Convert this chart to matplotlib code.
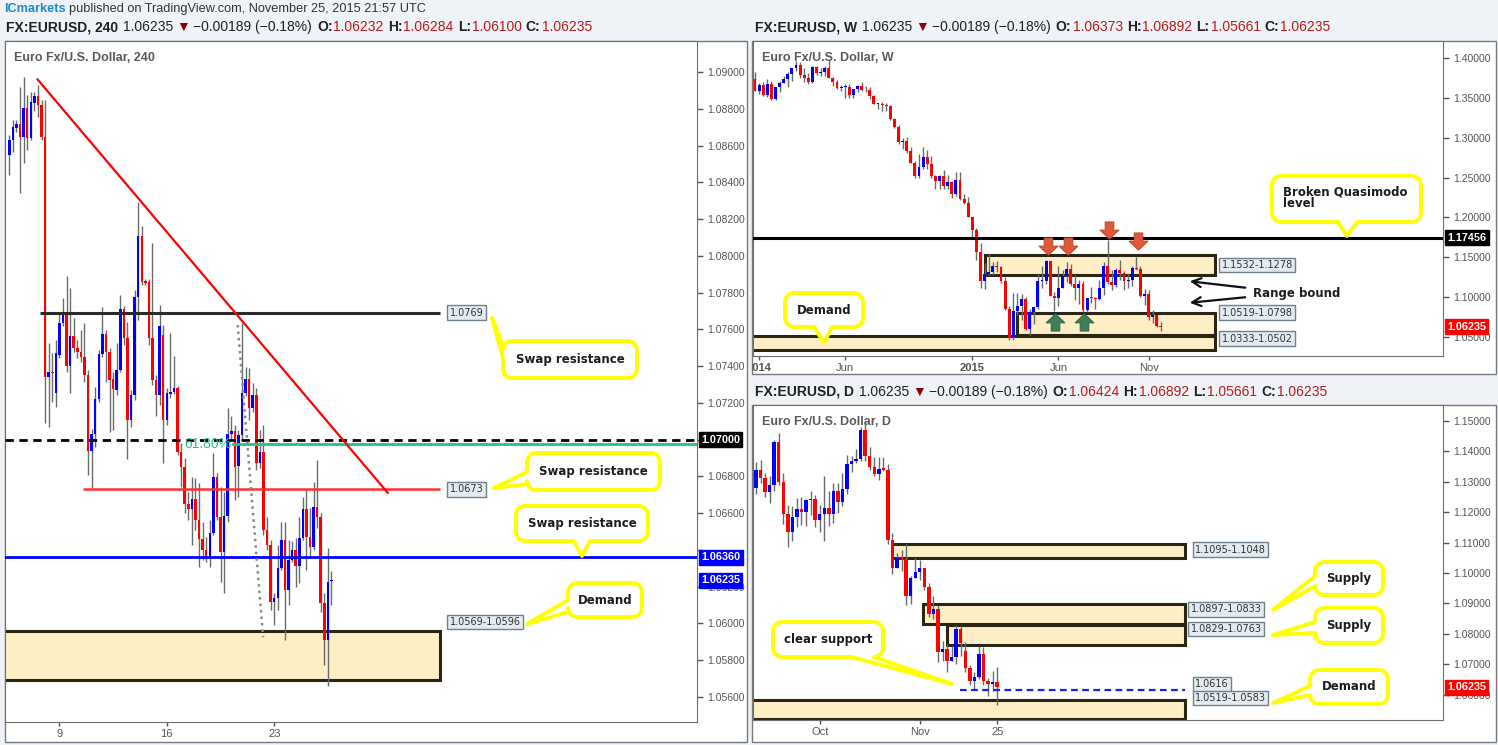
import numpy as np
import matplotlib
matplotlib.use('Agg')
import matplotlib.pyplot as plt
from matplotlib.patches import Rectangle, Polygon, FancyArrowPatch
from matplotlib.path import Path
from matplotlib.transforms import blended_transform_factory

plt.rcParams['font.family'] = ['Liberation Sans', 'DejaVu Sans']

# ---------------- data ----------------
# EURUSD 240 min candles, 5 Nov - 25 Nov 2015
h4_open = [1.08549, 1.08630, 1.08695, 1.08717, 1.08646, 1.08804, 1.08641, 1.08831, 1.08869, 1.08820,
           1.08646, 1.07341, 1.07368, 1.07254, 1.07461, 1.07635, 1.07689, 1.07401, 1.07564, 1.07499,
           1.07477, 1.07450, 1.07352, 1.06938, 1.07031, 1.07221, 1.07466, 1.07575, 1.07477, 1.07330,
           1.07271, 1.07379, 1.07711, 1.07553, 1.07107, 1.07243, 1.07776, 1.08108, 1.07863, 1.07858,
           1.07553, 1.07325, 1.07243, 1.07569, 1.07107, 1.07248, 1.07259, 1.07281, 1.06933, 1.06851,
           1.06650, 1.06623, 1.06677, 1.06563, 1.06460, 1.06400, 1.06356, 1.06492, 1.06797, 1.06579,
           1.06389, 1.06585, 1.07031, 1.07047, 1.06857, 1.07025, 1.07254, 1.07330, 1.07172, 1.07243,
           1.06873, 1.06933, 1.06509, 1.06427, 1.06117, 1.06139, 1.06302, 1.06454, 1.06182, 1.06345,
           1.06400, 1.06313, 1.06465, 1.06623, 1.06470, 1.06416, 1.06634, 1.06579, 1.06112, 1.05910,
           1.06232]
h4_high = [1.08657, 1.08739, 1.08739, 1.08918, 1.08973, 1.08875, 1.08891, 1.08891, 1.08929, 1.08848,
           1.08848, 1.07526, 1.07471, 1.07542, 1.07694, 1.07771, 1.07890, 1.07825, 1.07662, 1.07542,
           1.07596, 1.07635, 1.07379, 1.07058, 1.07286, 1.07488, 1.07722, 1.07596, 1.07499, 1.07368,
           1.07526, 1.07787, 1.07727, 1.07640, 1.07271, 1.07814, 1.08293, 1.08162, 1.07874, 1.07874,
           1.08070, 1.07352, 1.07732, 1.07624, 1.07281, 1.07580, 1.07455, 1.07292, 1.06982, 1.06900,
           1.06715, 1.06797, 1.06791, 1.06764, 1.06552, 1.06470, 1.06563, 1.06927, 1.06819, 1.06742,
           1.06715, 1.07172, 1.07129, 1.07080, 1.07053, 1.07635, 1.07395, 1.07390, 1.07308, 1.07281,
           1.07053, 1.07080, 1.06579, 1.06454, 1.06166, 1.06427, 1.06552, 1.06552, 1.06454, 1.06449,
           1.06465, 1.06579, 1.06688, 1.06726, 1.06628, 1.06770, 1.06889, 1.06601, 1.06166, 1.06411,
           1.06284]
h4_low = [1.08440, 1.08565, 1.08674, 1.08342, 1.08505, 1.08576, 1.08630, 1.08788, 1.08755, 1.08630,
          1.07091, 1.07069, 1.07205, 1.07178, 1.07444, 1.07618, 1.07368, 1.07254, 1.07477, 1.07444,
          1.07422, 1.07314, 1.06808, 1.06737, 1.06960, 1.07205, 1.07450, 1.07314, 1.07042, 1.07053,
          1.07243, 1.07368, 1.07515, 1.06895, 1.07069, 1.07216, 1.07651, 1.07841, 1.07841, 1.07515,
          1.07297, 1.07129, 1.07188, 1.06873, 1.07080, 1.07227, 1.07248, 1.06917, 1.06742, 1.06601,
          1.06563, 1.06427, 1.06509, 1.06307, 1.06345, 1.06334, 1.06307, 1.06481, 1.06563, 1.06226,
          1.06166, 1.06552, 1.06998, 1.06672, 1.06688, 1.06998, 1.07237, 1.07107, 1.07150, 1.06835,
          1.06846, 1.06481, 1.06400, 1.06073, 1.05992, 1.06073, 1.06291, 1.05910, 1.06100, 1.06334,
          1.06198, 1.06220, 1.06454, 1.06291, 1.06362, 1.06400, 1.06519, 1.06062, 1.05774, 1.05661,
          1.06100]
h4_close = [1.08630, 1.08701, 1.08717, 1.08646, 1.08804, 1.08641, 1.08837, 1.08869, 1.08820, 1.08646,
            1.07341, 1.07368, 1.07363, 1.07471, 1.07635, 1.07689, 1.07401, 1.07564, 1.07499, 1.07477,
            1.07450, 1.07352, 1.06938, 1.07031, 1.07221, 1.07466, 1.07575, 1.07477, 1.07325, 1.07276,
            1.07379, 1.07711, 1.07553, 1.07107, 1.07243, 1.07776, 1.08108, 1.07858, 1.07852, 1.07553,
            1.07325, 1.07243, 1.07618, 1.07107, 1.07254, 1.07259, 1.07281, 1.06933, 1.06851, 1.06650,
            1.06623, 1.06677, 1.06563, 1.06460, 1.06400, 1.06356, 1.06492, 1.06797, 1.06579, 1.06389,
            1.06585, 1.07031, 1.07047, 1.06851, 1.07025, 1.07254, 1.07330, 1.07172, 1.07243, 1.06873,
            1.06933, 1.06509, 1.06427, 1.06117, 1.06139, 1.06302, 1.06454, 1.06182, 1.06345, 1.06400,
            1.06313, 1.06465, 1.06623, 1.06470, 1.06416, 1.06634, 1.06579, 1.06112, 1.05910, 1.06226,
            1.06235]

# EURUSD weekly candles, 29 Dec 2013 - 22 Nov 2015
w_open = [1.3745, 1.3590, 1.3670, 1.3540, 1.3677, 1.3486, 1.3633, 1.3692, 1.3740, 1.3804,
          1.3874, 1.3913, 1.3789, 1.3750, 1.3705, 1.3888, 1.3813, 1.3830, 1.3873, 1.3757,
          1.3696, 1.3630, 1.3635, 1.3642, 1.3541, 1.3609, 1.3646, 1.3595, 1.3605, 1.3525,
          1.3428, 1.3430, 1.3411, 1.3400, 1.3240, 1.3130, 1.2951, 1.2966, 1.2830, 1.2684,
          1.2520, 1.2628, 1.2760, 1.2668, 1.2525, 1.2453, 1.2525, 1.2392, 1.2450, 1.2289,
          1.2467, 1.2227, 1.2185, 1.2001, 1.1842, 1.1566, 1.1204, 1.1290, 1.1315, 1.1387,
          1.1380, 1.1196, 1.0844, 1.0496, 1.0822, 1.0889, 1.0970, 1.0600, 1.0805, 1.0870,
          1.1198, 1.1200, 1.1447, 1.1015, 1.0987, 1.1110, 1.1260, 1.1348, 1.1165, 1.1110,
          1.1160, 1.0830, 1.0983, 1.0980, 1.0970, 1.1105, 1.1385, 1.1185, 1.1150, 1.1338,
          1.1300, 1.1195, 1.1215, 1.1360, 1.1350, 1.1015, 1.1040, 1.0740, 1.0770, 1.06373]
w_high = [1.3830, 1.3687, 1.3700, 1.3740, 1.3717, 1.3640, 1.3716, 1.3772, 1.3825, 1.3880,
          1.3967, 1.3950, 1.3877, 1.3810, 1.3905, 1.3906, 1.3877, 1.3906, 1.3993, 1.3770,
          1.3733, 1.3669, 1.3677, 1.3677, 1.3614, 1.3660, 1.3700, 1.3647, 1.3640, 1.3534,
          1.3444, 1.3446, 1.3444, 1.3410, 1.3245, 1.3162, 1.2995, 1.3014, 1.2887, 1.2705,
          1.2791, 1.2887, 1.2845, 1.2765, 1.2530, 1.2533, 1.2601, 1.2532, 1.2456, 1.2570,
          1.2570, 1.2290, 1.2250, 1.2010, 1.1870, 1.1680, 1.1423, 1.1534, 1.1443, 1.1448,
          1.1387, 1.1245, 1.0888, 1.1043, 1.1052, 1.1037, 1.1000, 1.0848, 1.0874, 1.1290,
          1.1392, 1.1467, 1.1450, 1.1060, 1.1385, 1.1338, 1.1436, 1.1408, 1.1278, 1.1215,
          1.1200, 1.0985, 1.1129, 1.1000, 1.1215, 1.1439, 1.1714, 1.1332, 1.1360, 1.1460,
          1.1330, 1.1285, 1.1387, 1.1495, 1.1386, 1.1096, 1.1087, 1.0830, 1.0775, 1.06892]
w_low = [1.3588, 1.3548, 1.3529, 1.3510, 1.3477, 1.3480, 1.3580, 1.3685, 1.3645, 1.3710,
         1.3837, 1.3749, 1.3705, 1.3673, 1.3695, 1.3789, 1.3782, 1.3772, 1.3754, 1.3647,
         1.3613, 1.3587, 1.3502, 1.3500, 1.3503, 1.3577, 1.3590, 1.3575, 1.3490, 1.3422,
         1.3366, 1.3333, 1.3340, 1.3230, 1.3117, 1.2918, 1.2860, 1.2815, 1.2682, 1.2500,
         1.2500, 1.2613, 1.2613, 1.2490, 1.2358, 1.2359, 1.2358, 1.2360, 1.2247, 1.2269,
         1.2220, 1.2165, 1.2000, 1.1754, 1.1460, 1.1115, 1.1098, 1.1270, 1.1270, 1.1316,
         1.1176, 1.0839, 1.0462, 1.0458, 1.0765, 1.0711, 1.0580, 1.0520, 1.0660, 1.0850,
         1.1110, 1.1155, 1.1016, 1.0818, 1.0886, 1.1105, 1.1190, 1.1134, 1.0955, 1.0915,
         1.0809, 1.0808, 1.0926, 1.0847, 1.0957, 1.1018, 1.1156, 1.1087, 1.1125, 1.1215,
         1.1086, 1.1106, 1.1140, 1.1337, 1.0997, 1.0896, 1.0706, 1.0674, 1.0617, 1.05661]
w_close = [1.3590, 1.3670, 1.3540, 1.3677, 1.3486, 1.3633, 1.3692, 1.3740, 1.3804, 1.3874,
           1.3913, 1.3789, 1.3750, 1.3705, 1.3888, 1.3813, 1.3830, 1.3873, 1.3757, 1.3696,
           1.3630, 1.3635, 1.3642, 1.3541, 1.3609, 1.3646, 1.3595, 1.3605, 1.3525, 1.3428,
           1.3430, 1.3411, 1.3400, 1.3240, 1.3130, 1.2951, 1.2966, 1.2830, 1.2684, 1.2520,
           1.2628, 1.2760, 1.2668, 1.2525, 1.2453, 1.2525, 1.2392, 1.2450, 1.2289, 1.2467,
           1.2227, 1.2185, 1.2001, 1.1842, 1.1566, 1.1204, 1.1290, 1.1315, 1.1387, 1.1380,
           1.1196, 1.0844, 1.0496, 1.0822, 1.0889, 1.0970, 1.0600, 1.0805, 1.0870, 1.1198,
           1.1200, 1.1447, 1.1015, 1.0987, 1.1110, 1.1260, 1.1348, 1.1165, 1.1110, 1.1160,
           1.0830, 1.0983, 1.0980, 1.0970, 1.1105, 1.1385, 1.1185, 1.1150, 1.1338, 1.1300,
           1.1195, 1.1215, 1.1360, 1.1350, 1.1015, 1.1040, 1.0740, 1.0770, 1.06373, 1.06235]

# EURUSD daily candles, 11 Sep - 25 Nov 2015
d_open = [1.1280, 1.1338, 1.1313, 1.1265, 1.1289, 1.1430, 1.1300, 1.1195, 1.1135, 1.1185,
          1.1210, 1.1200, 1.1240, 1.1245, 1.1175, 1.1195, 1.1215, 1.1195, 1.1270, 1.1235,
          1.1275, 1.1360, 1.1370, 1.1375, 1.1471, 1.1385, 1.1350, 1.1325, 1.1343, 1.1340,
          1.1110, 1.1015, 1.1050, 1.1045, 1.0925, 1.0985, 1.1004, 1.1015, 1.0955, 1.0865,
          1.0880, 1.0740, 1.0750, 1.0710, 1.0725, 1.0815, 1.0745, 1.0687, 1.0645, 1.0657,
          1.0735, 1.0645, 1.0635, 1.06424]
d_high = [1.1365, 1.1371, 1.1330, 1.1320, 1.1437, 1.1460, 1.1330, 1.1225, 1.1220, 1.1248,
          1.1250, 1.1245, 1.1270, 1.1255, 1.1225, 1.1318, 1.1270, 1.1295, 1.1295, 1.1330,
          1.1387, 1.1385, 1.1408, 1.1480, 1.1495, 1.1415, 1.1380, 1.1382, 1.1382, 1.1360,
          1.1133, 1.1067, 1.1075, 1.1095, 1.0990, 1.1050, 1.1043, 1.1017, 1.0968, 1.0925,
          1.0895, 1.0775, 1.0768, 1.0761, 1.0830, 1.0824, 1.0773, 1.0697, 1.0673, 1.0761,
          1.0755, 1.0656, 1.0679, 1.06892]
d_low = [1.1260, 1.1295, 1.1250, 1.1230, 1.1270, 1.1291, 1.1160, 1.1086, 1.1105, 1.1150,
         1.1157, 1.1155, 1.1190, 1.1150, 1.1135, 1.1105, 1.1155, 1.1165, 1.1197, 1.1220,
         1.1260, 1.1331, 1.1363, 1.1370, 1.1370, 1.1338, 1.1320, 1.1305, 1.1334, 1.1094,
         1.0997, 1.1015, 1.1005, 1.0896, 1.0898, 1.0983, 1.0977, 1.0945, 1.0855, 1.0850,
         1.0706, 1.0710, 1.0674, 1.0710, 1.0700, 1.0728, 1.0674, 1.0630, 1.0616, 1.0650,
         1.0631, 1.0595, 1.0612, 1.05661]
d_close = [1.1338, 1.1313, 1.1265, 1.1289, 1.1430, 1.1300, 1.1195, 1.1135, 1.1185, 1.1210,
           1.1200, 1.1240, 1.1245, 1.1175, 1.1195, 1.1215, 1.1195, 1.1270, 1.1235, 1.1275,
           1.1360, 1.1370, 1.1375, 1.1471, 1.1385, 1.1350, 1.1325, 1.1343, 1.1340, 1.1110,
           1.1015, 1.1050, 1.1045, 1.0925, 1.0985, 1.1004, 1.1015, 1.0955, 1.0865, 1.0880,
           1.0740, 1.0750, 1.0710, 1.0725, 1.0815, 1.0770, 1.0687, 1.0645, 1.0657, 1.0735,
           1.0645, 1.0635, 1.06424, 1.06235]

h4_ticks = [14, 44, 74]
h4_tick_labels = ['9', '16', '23']
w_ticks = [1, 22, 53, 74, 96]
w_tick_labels = ['2014', 'Jun', '2015', 'Jun', 'Nov']
d_ticks = [14, 36, 53]
d_tick_labels = ['Oct', 'Nov', '25']

# drawn levels and zones
h4_demand = (1.0569, 1.0596)
h4_swap_top = 1.0769
h4_swap_mid = 1.0673
h4_swap_low = 1.0636
h4_round = 1.0700
h4_fib = 1.06976
h4_trend = ([7.9, 105.7], [1.0896, 1.06711])
h4_fib_leg = ([63.8, 70.9], [1.07624, 1.05926])
w_qm = 1.17456
w_supply = (1.1278, 1.1532)
w_range_demand = (1.0519, 1.0798)
w_demand = (1.0333, 1.0502)
w_sell_marks = ([71.4, 76.4, 86.3, 93.4], [1.1639, 1.1639, 1.1836, 1.1702])
w_buy_marks = ([73.2, 80.3], [1.0683, 1.0683])
d_supply_a = (1.1048, 1.1095)
d_supply_b = (1.0833, 1.0897)
d_supply_c = (1.0763, 1.0829)
d_demand = (1.0519, 1.0583)
d_support = 1.0616
last_price = 1.06235

# ---------------- helpers ----------------
W, H = 1498, 745
UP, DOWN, WICK = '#0000ff', '#ff0000', '#6b6b6b'
ZONE_FC, ZONE_EC = '#fdeec6', '#2b2614'
HDR = ['Liberation Sans Narrow', 'Liberation Sans', 'DejaVu Sans']
NOTE = ['DejaVu Sans']

fig = plt.figure(figsize=(W / 100, H / 100), dpi=100)
fig.patch.set_facecolor('#eff2f6')


def fig_rect(l, t, r, b, **kw):
    p = Rectangle((l / W, 1 - b / H), (r - l) / W, (b - t) / H, transform=fig.transFigure, **kw)
    fig.add_artist(p)
    return p


def make_ax(l, t, r, b, xlim, ylim, yticks, xticks, xlabels, hide=()):
    ax = fig.add_axes([l / W, 1 - b / H, (r - l) / W, (b - t) / H])
    ax.set_facecolor('white')
    ax.yaxis.tick_right()
    ax.set_yticks(yticks)
    # labels that sit under a price tag are left blank
    ax.set_yticklabels(['' if v in hide else '%.5f' % v for v in yticks])
    ax.set_xticks(xticks)
    ax.set_xticklabels(xlabels)
    ax.tick_params(axis='y', colors='#555555', labelsize=7.5, length=4, width=1, pad=3)
    ax.tick_params(axis='x', colors='#555555', labelsize=8, length=3, width=1, pad=2)
    for s in ax.spines.values():
        s.set_color('#6f6f6f')
    ax.set_xlim(*xlim)
    ax.set_ylim(*ylim)
    return ax


def candles(ax, o, h, l, c, width, min_body):
    o, h, l, c = (np.asarray(v, float) for v in (o, h, l, c))
    x = np.arange(len(o))
    ax.vlines(x, l, h, colors=WICK, lw=1, zorder=3)
    cols = [UP if cc >= oo else DOWN for oo, cc in zip(o, c)]
    ax.bar(x, np.maximum(np.abs(c - o), min_body), width, np.minimum(o, c), color=cols, lw=0, zorder=4)


def zone(ax, x0, x1, lohi):
    ax.add_patch(Rectangle((x0, lohi[0]), x1 - x0, lohi[1] - lohi[0], fc=ZONE_FC, ec=ZONE_EC, lw=2.2, zorder=1))


def level_label(ax, x, y, s):
    ax.text(x, y, s, fontsize=7, family=NOTE, color='#333333', ha='left', va='center', zorder=7,
            bbox=dict(boxstyle='square,pad=0.25', fc='#e3ebf1', ec='#71808e', lw=1))


def price_tag(ax, y, s, bg):
    tr = blended_transform_factory(ax.transAxes, ax.transData)
    w = ax.get_position().width * W
    ax.text(1 + 4 / w, y, s, transform=tr, fontsize=7.8, fontweight='bold', color='white', ha='left',
            va='center', clip_on=False, zorder=20, bbox=dict(boxstyle='square,pad=0.22', fc=bg, ec=bg))


def callout(box, side, base, tip, text, tx=None, ty=None, ha='center'):
    x0, y0, x1, y1 = box
    r = 9
    pts = []

    def arc(cx, cy, a0, a1):
        for a in np.radians(np.linspace(a0, a1, 7)):
            pts.append((cx + r * np.cos(a), cy + r * np.sin(a)))

    arc(x0 + r, y0 + r, 180, 270)
    if side == 'top':
        pts.extend([(base[0], y0), tip, (base[1], y0)])
    arc(x1 - r, y0 + r, 270, 360)
    if side == 'right':
        pts.extend([(x1, base[0]), tip, (x1, base[1])])
    arc(x1 - r, y1 - r, 0, 90)
    if side == 'bottom':
        pts.extend([(base[1], y1), tip, (base[0], y1)])
    arc(x0 + r, y1 - r, 90, 180)
    if side == 'left':
        pts.extend([(x0, base[1]), tip, (x0, base[0])])
    pts = [(px / W, 1 - py / H) for px, py in pts]
    fig.add_artist(Polygon(pts, closed=True, transform=fig.transFigure, fc='white', ec='#ffff00',
                           lw=2.8, joinstyle='round', zorder=30))
    if tx is None:
        tx, ty = (x0 + x1) / 2, (y0 + y1) / 2
    fig.text(tx / W, 1 - ty / H, text, fontsize=8.5, fontweight='bold', family=NOTE, color='#1d1d1d',
             ha=ha, va='center', zorder=31, linespacing=0.85)


def header(x, y, parts, size=10):
    rend = fig.canvas.get_renderer()
    for s, col, wt, gap in parts:
        t = fig.text(x / W, 1 - y / H, s, color=col, fontweight=wt, fontsize=size, family=HDR,
                     ha='left', va='center')
        x += t.get_window_extent(rend).width + gap


def ohlc_header(x, y, tf, o, h, l, c):
    dark, val = '#222222', '#b71c1c'
    header(x, y, [('FX:EURUSD, ' + tf, dark, 'bold', 5), ('1.06235', dark, 'normal', 3),
                  ('▼', '#8b0000', 'normal', 3), ('−0.00189 (−0.18%)', dark, 'normal', 5),
                  ('O:', dark, 'bold', 1), (o, val, 'normal', 4), ('H:', dark, 'bold', 1), (h, val, 'normal', 4),
                  ('L:', dark, 'bold', 1), (l, val, 'normal', 4), ('C:', dark, 'bold', 1), (c, val, 'normal', 0)])


arrow_down = Path([(-0.25, 0.5), (0.25, 0.5), (0.25, 0.02), (0.55, 0.02), (0, -0.5),
                   (-0.55, 0.02), (-0.25, 0.02), (-0.25, 0.5)], closed=True)
arrow_up = Path([(x, -y) for x, y in arrow_down.vertices], closed=True)

# ---------------- frames ----------------
fig_rect(5, 41, 747, 742, fc='white', ec='#7a7a7a', lw=1, zorder=-1)
wk_frame = fig_rect(752, 41, 1496, 374, fc='white', ec='#7a7a7a', lw=1, zorder=-1)
fig_rect(752, 405, 1496, 742, fc='white', ec='#7a7a7a', lw=1, zorder=-1)

header(4, 9, [('ICmarkets', '#1e8bd2', 'bold', 3),
              ('published on TradingView.com, November 25, 2015 21:57 UTC', '#333333', 'normal', 0)], size=9.2)
ohlc_header(6, 27, '240', '1.06232', '1.06284', '1.06100', '1.06235')
ohlc_header(755, 27, 'W', '1.06373', '1.06892', '1.05661', '1.06235')
ohlc_header(755, 392, 'D', '1.06424', '1.06892', '1.05661', '1.06235')

# ---------------- 240 min panel ----------------
ax = make_ax(5, 41, 697, 722, (-1.2, 192.1), (1.05464, 1.09169),
             [round(1.056 + 0.002 * i, 3) for i in range(18)], h4_ticks, h4_tick_labels,
             hide=(1.07, 1.064))
zone(ax, -3, 120.3, h4_demand)
candles(ax, h4_open, h4_high, h4_low, h4_close, 0.7, 0.00003)
ax.plot([8.6, 120.3], [h4_swap_top] * 2, color='#2a2a2a', lw=2.2, zorder=5, solid_capstyle='butt')
ax.plot([20.6, 120.3], [h4_swap_mid] * 2, color='#ff3030', lw=1.8, zorder=5, solid_capstyle='butt')
ax.axhline(h4_swap_low, color='#0000ff', lw=2, zorder=5)
ax.axhline(h4_round, color='#000000', lw=2, ls=(0, (3, 2)), zorder=5)
ax.plot([62.5, 192.1], [h4_fib] * 2, color='#2bbd8c', lw=2, zorder=5)
ax.text(49.0, h4_fib, '61.80%', color='#2bbd8c', fontsize=10, ha='left', va='center', zorder=5)
ax.plot(*h4_trend, color='#ff0000', lw=1.6, zorder=6)
ax.plot(*h4_fib_leg, color='#8a8a8a', lw=1.8, ls=(0, (1, 1.6)), zorder=6)
level_label(ax, 123, h4_swap_top, '1.0769')
level_label(ax, 123, h4_swap_mid, '1.0673')
level_label(ax, 123, 1.06008, '1.0569-1.0596')
price_tag(ax, h4_round, '1.07000', '#000000')
price_tag(ax, h4_swap_low, '1.06360', '#0000ff')
price_tag(ax, last_price, '1.06235', '#0000ff')
fig.text(14 / W, 1 - 58 / H, 'Euro Fx/U.S. Dollar, 240', fontsize=9, fontweight='bold', color='#5a5a5a',
         ha='left', va='center')

# ---------------- weekly panel ----------------
aw = make_ax(753, 41, 1443, 356, (-0.49, 167.8), (1.02553, 1.42176),
             [round(1.05 + 0.05 * i, 2) for i in range(8)], w_ticks, w_tick_labels)
zone(aw, -3, 112.2, w_demand)
zone(aw, 56.1, 112.2, w_supply)
zone(aw, 63.8, 112.2, w_range_demand)
candles(aw, w_open, w_high, w_low, w_close, 0.7, 0.0012)
aw.axhline(w_qm, color='#000000', lw=2.2, zorder=5)
aw.plot(*w_sell_marks, ls='none', marker=arrow_down, ms=13.5, mfc='#e0583c', mec='#c24b32', mew=0.8, zorder=8)
aw.plot(*w_buy_marks, ls='none', marker=arrow_up, ms=13.5, mfc='#3f7f55', mec='#356b48', mew=0.8, zorder=8)
level_label(aw, 113.8, 1.1400, '1.1532-1.1278')
level_label(aw, 113.8, 1.0800, '1.0519-1.0798')
level_label(aw, 113.8, 1.0473, '1.0333-1.0502')
price_tag(aw, w_qm, '1.17456', '#000000')
price_tag(aw, last_price, '1.06235', '#ff0000')
for lbl in aw.get_xticklabels():
    if lbl.get_text().startswith('20'):
        lbl.set_fontweight('bold')
aw.get_xticklabels()[0].set_clip_path(wk_frame)
fig.text(762 / W, 1 - 58 / H, 'Euro Fx/U.S. Dollar, W', fontsize=9, fontweight='bold', color='#5a5a5a',
         ha='left', va='center')

# ---------------- daily panel ----------------
ad = make_ax(753, 405, 1443, 720, (-0.66, 151.0), (1.05164, 1.15526),
             [round(1.06 + 0.01 * i, 2) for i in range(10)], d_ticks, d_tick_labels)
zone(ad, -3, 94.3, d_demand)
zone(ad, 29.8, 94.3, d_supply_a)
zone(ad, 36.8, 94.3, d_supply_b)
zone(ad, 41.9, 94.3, d_supply_c)
candles(ad, d_open, d_high, d_low, d_close, 0.75, 0.0004)
ad.plot([44.8, 94.3], [d_support] * 2, color='#1a1aff', lw=1.6, ls=(0, (3, 2)), zorder=5)
level_label(ad, 96.5, 1.10767, '1.1095-1.1048')
level_label(ad, 95.5, 1.08806, '1.0897-1.0833')
level_label(ad, 95.5, 1.08158, '1.0829-1.0763')
level_label(ad, 96.5, 1.06339, '1.0616')
level_label(ad, 96.5, 1.05888, '1.0519-1.0583')
price_tag(ad, last_price, '1.06235', '#ff0000')
fig.text(762 / W, 1 - 422 / H, 'Euro Fx/U.S. Dollar, D', fontsize=9, fontweight='bold', color='#5a5a5a',
         ha='left', va='center')

# ---------------- callouts ----------------
callout((503, 341, 637, 378), 'left', (346, 358), (492, 318), 'Swap resistance')
callout((527, 453, 660, 490), 'left', (472, 484), (494, 488), 'Swap resistance')
callout((516, 506, 648, 541), 'bottom', (574, 590), (582, 556), 'Swap resistance')
callout((568, 583, 642, 617), 'left', (600, 612), (527, 624), 'Demand')
callout((785, 293, 863, 327), 'bottom', (814, 832), (824, 343), 'Demand')
callout((1272, 176, 1421, 222), 'bottom', (1338, 1357), (1347, 236), 'Broken Quasimodo\nlevel',
        tx=1283, ty=198, ha='left')
callout((773, 622, 883, 657), 'bottom', (852, 874), (952, 684), 'clear support')
callout((1315, 562, 1383, 595), 'left', (576, 586), (1273, 610), 'Supply')
callout((1315, 608, 1383, 643), 'left', (622, 633), (1273, 635), 'Supply')
callout((1310, 670, 1388, 704), 'left', (686, 695), (1273, 703), 'Demand')

fig.text(1253 / W, 1 - 293 / H, 'Range bound', fontsize=8.5, fontweight='bold', family=NOTE,
         color='#1d1d1d', ha='left', va='center')
for y_from, y_to in [(288, 281), (297, 303)]:
    fig.add_artist(FancyArrowPatch((1248 / W, 1 - y_from / H), (1187 / W, 1 - y_to / H),
                                   transform=fig.transFigure, arrowstyle='->', mutation_scale=16,
                                   lw=1.6, color='#111111', zorder=30))

fig.savefig('out.png', dpi=100, facecolor=fig.get_facecolor())
